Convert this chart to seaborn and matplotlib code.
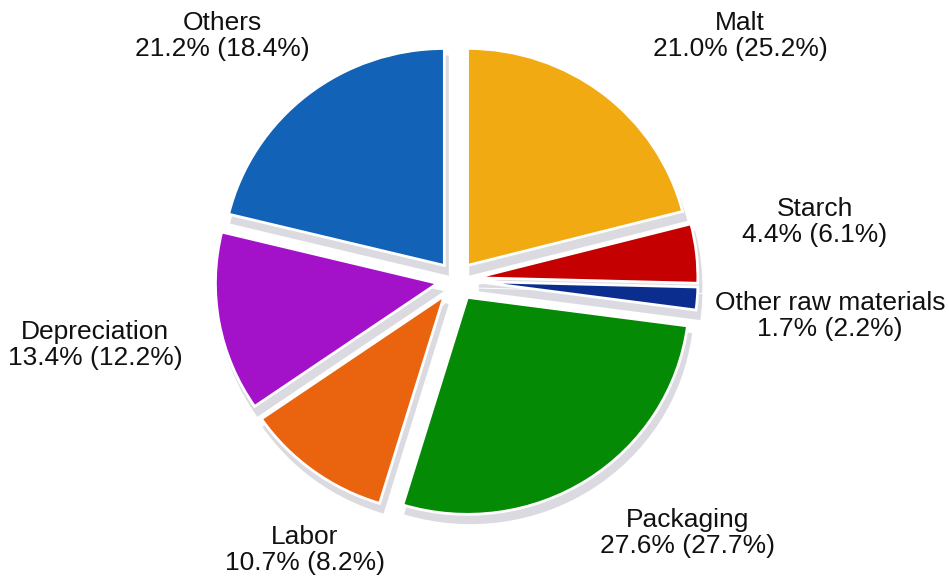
import matplotlib
matplotlib.use("Agg")
import matplotlib.pyplot as plt
import seaborn as sns

# Cost structure shares: current year (previous year in brackets)
categories = ["Malt", "Starch", "Other raw materials", "Packaging",
              "Labor", "Depreciation", "Others"]
shares = [21.0, 4.4, 1.7, 27.6, 10.7, 13.4, 21.2]
prev_shares = [25.2, 6.1, 2.2, 27.7, 8.2, 12.2, 18.4]
colors = ["#F2AA12", "#C40000", "#0B2D8E", "#058A05",
          "#EA640F", "#A312C9", "#1262B8"]
explode = [0.085, 0.09, 0.09, 0.095, 0.09, 0.085, 0.085]

# label block centres (pixels from top-left of the figure)
label_pos = [(740, 36), (815, 222), (830, 316), (688, 533),
             (305, 550), (95, 345), (222, 36)]

sns.set_theme(style="white")
plt.rcParams["font.family"] = ["Liberation Sans", "DejaVu Sans"]

W, H, DPI = 949, 583, 100
fig = plt.figure(figsize=(W / DPI, H / DPI), dpi=DPI)
ax = fig.add_axes([0, 0, 1, 1])

cx, cy = 456, 280     # pie centre in pixels
rx, ry = 222, 217     # horizontal / vertical radius in pixels

ax.pie(shares, colors=colors, explode=explode, startangle=90,
       counterclock=False, radius=1.0,
       wedgeprops=dict(edgecolor="white", linewidth=2.0),
       shadow=dict(ox=0.010, oy=-0.028, facecolor="#dadae0",
                   edgecolor="#dadae0", alpha=1.0))

ax.set_aspect("auto")
ax.set_xlim(-cx / rx, (W - cx) / rx)
ax.set_ylim(-(H - cy) / ry, cy / ry)
ax.axis("off")

for name, s, p, (x, y) in zip(categories, shares, prev_shares, label_pos):
    fig.text(x / W, 1 - y / H, f"{name}\n{s:.1f}% ({p:.1f}%)",
             ha="center", va="center", fontsize=19, linespacing=1.15,
             color="#111111")

fig.savefig("out.png", dpi=DPI, facecolor="white")
